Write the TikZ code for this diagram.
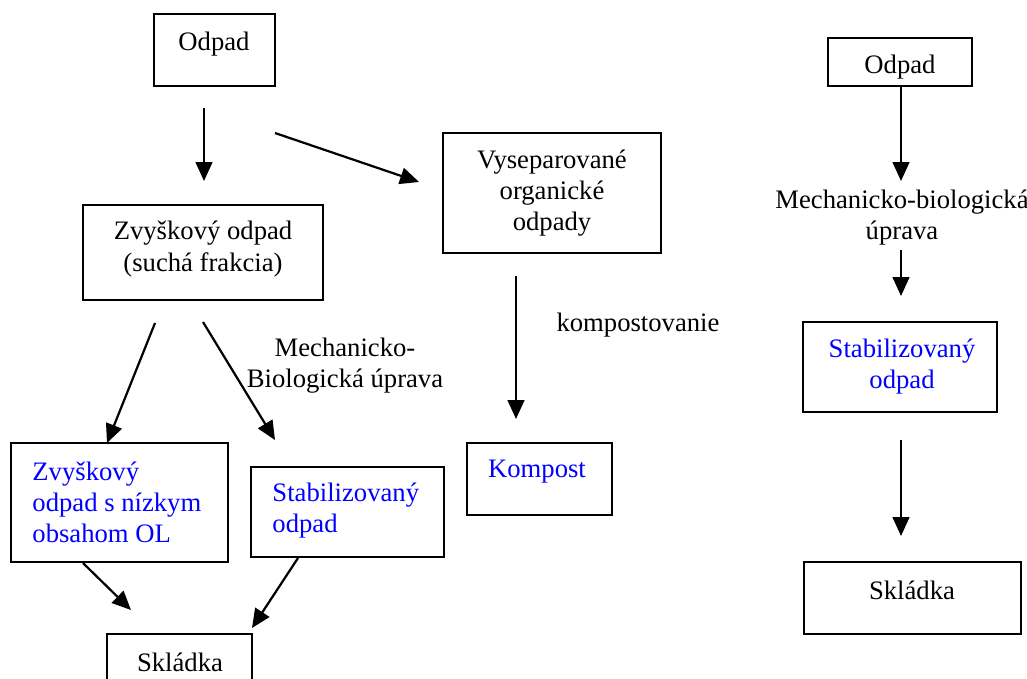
\documentclass[tikz,border=0pt]{standalone}
\usepackage{fontspec}
\setmainfont{Liberation Serif}
\usetikzlibrary{arrows.meta,fit}

\tikzset{
  box/.style={draw,line width=0.85pt,inner sep=0pt},
  txt/.style={inner sep=0pt,font=\fontsize{12}{14}\selectfont},
  modry/.style={txt,text=blue},
  sipka/.style={line width=1pt,-{Triangle[length=8.5pt,width=7.5pt]}}
}

\begin{document}
\begin{tikzpicture}[x=0.45pt,y=-0.45pt]
	\clip (0,0) rectangle (1027,678);
	\fill[white] (0,0) rectangle (1027,678);
	% lava schema
	\node[box,fit={(154,14) (275,86)}] (odpad) {};
	\node[txt] (odpadT) at (214,44) {Odpad};
	\node[box,fit={(83,205) (323,300)}] (zvys) {};
	\node[txt,align=center] (zvysT) at (203,249) {Zvyškový odpad\\(suchá frakcia)};
	\node[box,fit={(443,133) (661,253)}] (vysep) {};
	\node[txt,align=center] (vysepT) at (552,193) {Vyseparované\\organické\\odpady};
	\node[box,fit={(467,443) (612,515)}] (kompost) {};
	\node[modry] (kompostT) at (537,472) {Kompost};
	\node[box,fit={(11,443) (228,562)}] (nizke) {};
	\node[modry,align=left,anchor=west] (nizkeT) at (32,502) {Zvyškový\\odpad s nízkym\\obsahom OL};
	\node[box,fit={(251,467) (444,557)}] (stab) {};
	\node[modry,align=left,anchor=west] (stabT) at (272,511) {Stabilizovaný\\odpad};
	\node[box,fit={(107,634) (252,720)}] (skl) {};
	\node[txt] (sklT) at (180,662) {Skládka};
	\node[txt,align=center] (mbu) at (345,366) {Mechanicko-\\Biologická úprava};
	\node[txt] (komp) at (638,325) {kompostovanie};

	\coordinate (a1) at (204,108); \coordinate (b1) at (204,181);
	\coordinate (a2) at (275,133); \coordinate (b2) at (419,182);
	\coordinate (a3) at (155,323); \coordinate (b3) at (107,443);
	\coordinate (a4) at (203,322); \coordinate (b4) at (275,440);
	\coordinate (a5) at (516,276); \coordinate (b5) at (516,419);
	\coordinate (a6) at (83,563);  \coordinate (b6) at (131,610);
	\coordinate (a7) at (298,558); \coordinate (b7) at (252,628);
	\draw[sipka] (a1) -- (b1);
	\draw[sipka] (a2) -- (b2);
	\draw[sipka] (a3) -- (b3);
	\draw[sipka] (a4) -- (b4);
	\draw[sipka] (a5) -- (b5);
	\draw[sipka] (a6) -- (b6);
	\draw[sipka] (a7) -- (b7);

	% prava schema
	\node[box,fit={(828,38) (972,86)}] (odpadR) {};
	\node[txt] (odpadRT) at (900,67) {Odpad};
	\node[txt,align=center] (mbuR) at (902,218) {Mechanicko-biologická\\úprava};
	\node[box,fit={(803,322) (997,412)}] (stabR) {};
	\node[modry,align=center] (stabRT) at (902,367) {Stabilizovaný\\odpad};
	\node[box,fit={(804,562) (1021,634)}] (sklR) {};
	\node[txt] (sklRT) at (912,590) {Skládka};

	\coordinate (a8) at (901,250);  \coordinate (b8) at (901,296);
	\coordinate (a9) at (901,440);  \coordinate (b9) at (901,536);
	\coordinate (b0) at (901,181);
	\draw[sipka] (odpadR.south -| b0) -- (b0);
	\draw[sipka] (a8) -- (b8);
	\draw[sipka] (a9) -- (b9);
\end{tikzpicture}
\end{document}
